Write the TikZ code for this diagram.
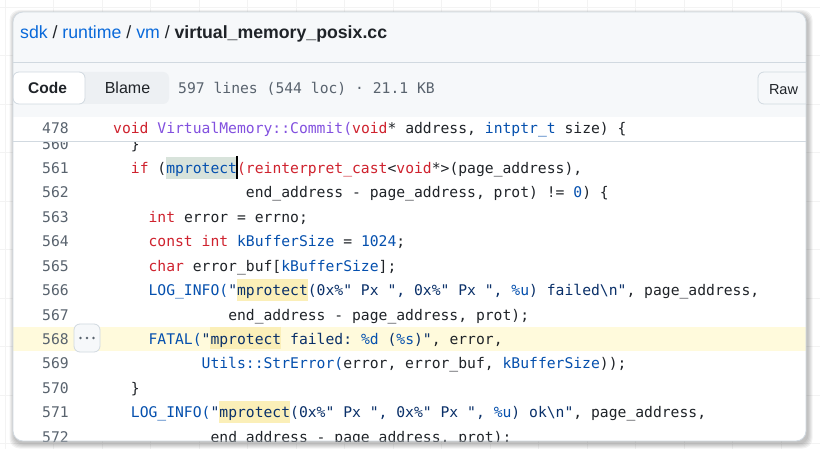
\documentclass[tikz,border=0pt]{standalone}
\usepackage{fontspec}
\setmainfont{Liberation Sans}
\newfontfamily\monofam{DejaVu Sans Mono}
\usetikzlibrary{positioning}

\definecolor{fg}{HTML}{1F2328}
\definecolor{muted}{HTML}{59636E}
\definecolor{link}{HTML}{0969DA}
\definecolor{hdrbg}{HTML}{F6F8FA}
\definecolor{bordc}{HTML}{D1D9E0}
\definecolor{segbg}{HTML}{EDF0F3}
\definecolor{ckw}{HTML}{CF222E}
\definecolor{cfn}{HTML}{8250DF}
\definecolor{cen}{HTML}{0550AE}
\definecolor{cstr}{HTML}{0A3069}
\definecolor{rowhl}{HTML}{FFFADC}
\definecolor{wordhl}{HTML}{FBEFB8}
\definecolor{selhl}{HTML}{D8E3DB}
\definecolor{gridc}{HTML}{F3F3F3}

\newcommand\codefont{\monofam\fontsize{14.7}{17}\selectfont\frenchspacing}
\newcommand\kw[1]{\textcolor{ckw}{#1}}
\newcommand\fn[1]{\textcolor{cfn}{#1}}
\newcommand\en[1]{\textcolor{cen}{#1}}
\newcommand\strg[1]{\textcolor{cstr}{#1}}
\def\cw{8.85}

\begin{document}
\begin{tikzpicture}[x=1pt,y=-1pt,
    code/.style={anchor=base west,inner sep=0,font=\codefont,text=fg},
    lnum/.style={anchor=base east,inner sep=0,font=\codefont,text=muted},
    ui/.style={anchor=base,inner sep=0,text=fg},
    btn/.style={draw=bordc,rounded corners=6,line width=0.8}]
    \useasboundingbox (0,0) rectangle (820,449);
    \fill[white] (0,0) rectangle (820,449);
    % faint paper grid
    \foreach \gx in {5,53.5,...,820} \draw[gridc,line width=0.6] (\gx,0) -- (\gx,449);
    \foreach \gy in {7,55.5,...,449} \draw[gridc,line width=0.6] (0,\gy) -- (820,\gy);
    % card shadow
    \foreach \s in {1,...,5}
        \fill[black,opacity=0.05,rounded corners=10] ({13-\s+1.5},{12-\s+3}) rectangle ({806+\s+1.5},{441+\s+2.5});

    \begin{scope}
    \clip[rounded corners=10] (13,12) rectangle (806,441);
    \fill[white] (13,12) rectangle (806,441);
    \fill[hdrbg] (13,12) rectangle (806,117);
    \draw[bordc,line width=0.8] (13,62) -- (806,62);
    \draw[bordc,line width=0.8] (13,117) -- (806,117);

    \node[anchor=base west,inner sep=0,font=\fontsize{17.7}{20}\selectfont,text=fg] (crumb) at (20,39) {\textcolor{link}{sdk} / \textcolor{link}{runtime} / \textcolor{link}{vm} / \textbf{virtual\_memory\_posix.cc}};

    \fill[segbg,rounded corners=6] (13,72) rectangle (169,104);
    \draw[btn,fill=white] (13,72) rectangle (85,104);
    \node[ui,font=\bfseries\fontsize{15.5}{18}\selectfont] (codebtn) at (47.5,94) {Code};
    \node[ui,font=\fontsize{16}{18}\selectfont] (blamebtn) at (127.5,94) {Blame};
    \node[anchor=base west,inner sep=0,font=\codefont,text=muted] (info) at (178,93.5) {597 lines (544 loc) · 21.1 KB};
    \draw[btn,fill=hdrbg] (758,72) rectangle (830,104);
    \node[ui,font=\fontsize{14.5}{17}\selectfont] (rawbtn) at (783.5,94.5) {Raw};

    \begin{scope}
    \clip (13,141) rectangle (806,441);
    % highlighted line and search hits
    \fill[rowhl] (13,327.4) rectangle (806,351);
    \fill[selhl] ({113+6*\cw},156.6) rectangle ++({8*\cw},22);
    \fill[wordhl] ({113+14*\cw},278.6) rectangle ++({8*\cw},22);
    \fill[wordhl] ({113+11*\cw},327.4) rectangle ++({8*\cw},22);
    \fill[wordhl] ({113+12*\cw},400.6) rectangle ++({8*\cw},22);

    \foreach \n in {560,...,572}
        \node[lnum] (n\n) at (69,{173.6+(\n-561)*24.4}) {\n};

    \path (n560.base east) ++({44+2*\cw},0) node[code] (c560) {\}};
    \path (n561.base east) ++({44+2*\cw},0)
          node[code] (c561) {\kw{if} (\en{mprotect}\kw{(reinterpret\_cast}<\kw{void}*>(page\_address),};
    \path (n562.base east) ++({44+15*\cw},0)
          node[code] (c562) {end\_address - page\_address, prot) != \en{0}) \{};
    \path (n563.base east) ++({44+4*\cw},0)
          node[code] (c563) {\kw{int} error = errno;};
    \path (n564.base east) ++({44+4*\cw},0)
          node[code] (c564) {\kw{const} \kw{int} \en{kBufferSize} = \en{1024};};
    \path (n565.base east) ++({44+4*\cw},0)
          node[code] (c565) {\kw{char} error\_buf[\en{kBufferSize}];};
    \path (n566.base east) ++({44+4*\cw},0)
          node[code] (c566) {\en{LOG\_INFO(}\strg{"mprotect(0x\%" Px ", 0x\%" Px ", \en{\%u}) failed\textbackslash n"}, page\_address,};
    \path (n567.base east) ++({44+13*\cw},0)
          node[code] (c567) {end\_address - page\_address, prot);};
    \path (n568.base east) ++({44+4*\cw},0)
          node[code] (c568) {\en{FATAL(}\strg{"mprotect failed: \en{\%d} (\en{\%s})"}, error,};
    \path (n569.base east) ++({44+10*\cw},0)
          node[code] (c569) {\en{Utils::StrError(}error, error\_buf, \en{kBufferSize}));};
    \path (n570.base east) ++({44+2*\cw},0) node[code] (c570) {\}};
    \path (n571.base east) ++({44+2*\cw},0)
          node[code] (c571) {\en{LOG\_INFO(}\strg{"mprotect(0x\%" Px ", 0x\%" Px ", \en{\%u}) ok\textbackslash n"}, page\_address,};
    \path (n572.base east) ++({44+11*\cw},0)
          node[code] (c572) {end\_address - page\_address, prot);};

    % text cursor
    \draw[black,line width=1.6] ({113+14*\cw},156) -- ({113+14*\cw},179);
    % line menu
    \node[btn,fill=hdrbg,minimum width=26,minimum height=28,inner sep=0] (dots) at (87,338) {};
    \foreach \dx in {-6.5,0,6.5}
        \fill[muted] ([xshift=\dx pt]dots.center) circle (1.3);
    \end{scope}

    % sticky first line
    \fill[white] (13,117.5) rectangle (806,141);
    \draw[bordc,line width=0.8] (13,141) -- (806,141);
    \node[lnum] (n478) at (69,133.5) {478};
    \path (n478.base east) ++(44,0)
          node[code] (c478) {\kw{void} \fn{VirtualMemory::Commit(}\kw{void}* address, \en{intptr\_t} size) \{};
    \end{scope}
    \draw[bordc,line width=0.8,rounded corners=10] (13,12) rectangle (806,441);
\end{tikzpicture}
\end{document}
